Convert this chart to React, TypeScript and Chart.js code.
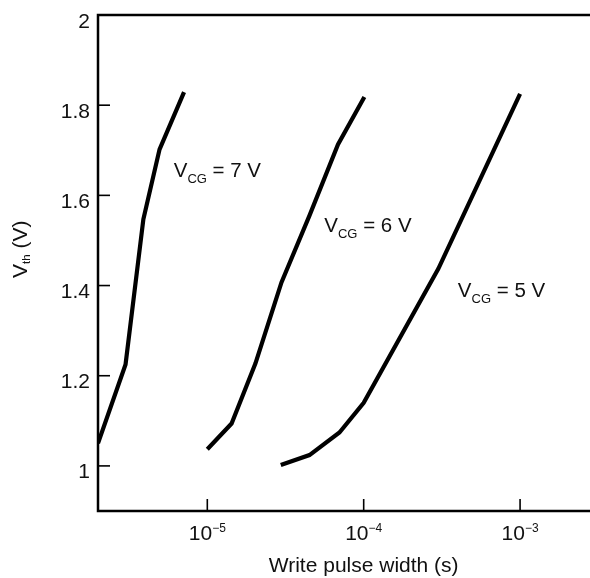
import React, { useEffect, useRef } from "react";
import { Chart, registerables } from "chart.js";

Chart.register(...registerables);

// ---- data ----
const pulse7 = [2e-6, 3.0e-6, 3.9e-6, 4.95e-6, 7.1e-6];
const vth7 = [1.05, 1.225, 1.547, 1.702, 1.829];

const pulse6 = [1e-5, 1.43e-5, 2.03e-5, 2.98e-5, 4.5e-5, 6.85e-5, 1.01e-4];
const vth6 = [1.037, 1.094, 1.227, 1.407, 1.555, 1.713, 1.818];

const pulse5 = [2.95e-5, 4.5e-5, 7e-5, 1e-4, 3e-4, 1e-3];
const vth5 = [1.002, 1.024, 1.074, 1.14, 1.437, 1.825];

const seriesNames = ["= 7 V", "= 6 V", "= 5 V"];
const labelPulse = [6.1e-6, 5.6e-5, 4.0e-4];
const labelVth = [1.641, 1.518, 1.374];

const xTickValues = [1e-5, 1e-4, 1e-3];
const xTickExponents = ["\u22125", "\u22124", "\u22123"];
const yTickValues = [1, 1.2, 1.4, 1.6, 1.8, 2];
const yTickLabels = ["1", "1.2", "1.4", "1.6", "1.8", "2"];
const xTitle = "Write pulse width (s)";

const FONT = "'Liberation Sans', Arial, Helvetica, sans-serif";

type Part = { text: string; size: number; dy: number };

function partsWidth(ctx: CanvasRenderingContext2D, parts: Part[]) {
  let w = 0;
  for (const p of parts) {
    ctx.font = `${p.size}px ${FONT}`;
    w += ctx.measureText(p.text).width;
  }
  return w;
}

function drawParts(ctx: CanvasRenderingContext2D, parts: Part[], x: number, y: number) {
  let cx = x;
  ctx.textAlign = "left";
  ctx.textBaseline = "alphabetic";
  for (const p of parts) {
    ctx.font = `${p.size}px ${FONT}`;
    ctx.fillText(p.text, cx, y + p.dy);
    cx += ctx.measureText(p.text).width;
  }
}

const framePlugin = {
  id: "frame",
  afterDraw(chart: any) {
    const { ctx, chartArea, scales } = chart;
    const { left, right, top, bottom } = chartArea;
    const xs = scales.x;
    const ys = scales.y;
    ctx.save();
    ctx.strokeStyle = "#000";
    ctx.fillStyle = "#111";
    ctx.lineWidth = 2.5;
    ctx.lineCap = "square";
    ctx.beginPath();
    ctx.moveTo(right, top);
    ctx.lineTo(left, top);
    ctx.lineTo(left, bottom);
    ctx.lineTo(right, bottom);
    ctx.stroke();

    ctx.lineWidth = 1.6;
    ctx.lineCap = "butt";
    // y ticks (inward) + labels
    yTickValues.forEach((v, i) => {
      const py = ys.getPixelForValue(v);
      ctx.beginPath();
      ctx.moveTo(left, py);
      ctx.lineTo(left + 12, py);
      ctx.stroke();
      ctx.font = `21px ${FONT}`;
      ctx.textAlign = "right";
      ctx.textBaseline = "alphabetic";
      ctx.fillText(yTickLabels[i], left - 8, py + 12.5);
    });
    // x ticks (inward) + labels
    xTickValues.forEach((v, i) => {
      const px = xs.getPixelForValue(v);
      ctx.beginPath();
      ctx.moveTo(px, bottom);
      ctx.lineTo(px, bottom - 12);
      ctx.stroke();
      const parts: Part[] = [
        { text: "10", size: 21, dy: 0 },
        { text: xTickExponents[i], size: 12, dy: -8 },
      ];
      const w = partsWidth(ctx, parts);
      drawParts(ctx, parts, px - w / 2, bottom + 28.5);
    });
    // x title centered on the middle decade tick
    ctx.font = `21px ${FONT}`;
    ctx.textAlign = "center";
    ctx.textBaseline = "alphabetic";
    ctx.fillText(xTitle, xs.getPixelForValue(xTickValues[1]), bottom + 61);

    // y title, rotated
    ctx.save();
    ctx.translate(27, (top + bottom) / 2 + 15);
    ctx.rotate(-Math.PI / 2);
    drawParts(ctx, [
      { text: "V", size: 21, dy: 0 },
      { text: "th", size: 11.5, dy: 3 },
      { text: " (V)", size: 21, dy: 0 },
    ], 0, 0);
    ctx.restore();

    // curve labels
    seriesNames.forEach((name, i) => {
      const px = xs.getPixelForValue(labelPulse[i]);
      const py = ys.getPixelForValue(labelVth[i]);
      drawParts(ctx, [
        { text: "V", size: 20.5, dy: 0 },
        { text: "CG", size: 13, dy: 6 },
        { text: " " + name, size: 20.5, dy: 0 },
      ], px, py);
    });
    ctx.restore();
  },
};

function toPoints(xs: number[], ys: number[]) {
  return xs.map((x, i) => ({ x, y: ys[i] }));
}

export default function App() {
  const ref = useRef<HTMLCanvasElement | null>(null);
  useEffect(() => {
    if (!ref.current) return;
    const line = (xs: number[], ys: number[]) => ({
      data: toPoints(xs, ys),
      borderColor: "#000",
      backgroundColor: "#000",
      borderWidth: 4.2,
      pointRadius: 0,
      tension: 0,
      fill: false,
    });
    const chart = new Chart(ref.current, {
      type: "line",
      data: {
        datasets: [line(pulse7, vth7), line(pulse6, vth6), line(pulse5, vth5)],
      },
      options: {
        responsive: true,
        maintainAspectRatio: false,
        animation: false,
        layout: { padding: { top: 15, left: 0, right: 0, bottom: 0 } },
        plugins: { legend: { display: false }, tooltip: { enabled: false } },
        scales: {
          x: {
            type: "logarithmic",
            min: 2e-6,
            max: 2.8e-3,
            grid: { display: false },
            border: { display: false },
            ticks: { display: false },
            afterFit: (s: any) => {
              s.height = 67;
            },
          },
          y: {
            type: "linear",
            min: 0.9,
            max: 2,
            grid: { display: false },
            border: { display: false },
            ticks: { display: false },
            afterFit: (s: any) => {
              s.width = 98;
            },
          },
        },
      } as any,
      plugins: [framePlugin],
    });
    return () => chart.destroy();
  }, []);
  return (
    <div style={{ position: "absolute", left: 0, top: 0, width: 590, height: 578, background: "#fff" }}>
      <canvas ref={ref} style={{ display: "block" }} />
    </div>
  );
}
